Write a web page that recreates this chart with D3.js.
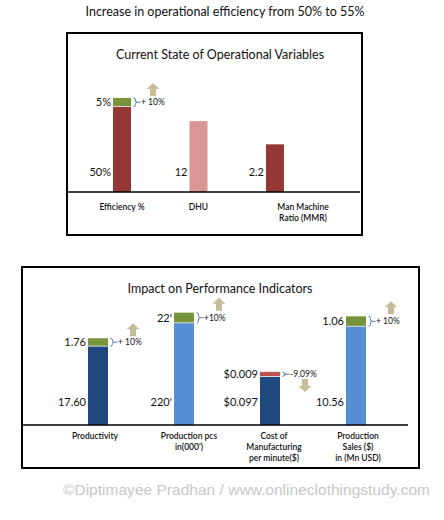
<!DOCTYPE html>
<html><head><meta charset="utf-8">
<script src="https://cdn.jsdelivr.net/npm/d3@7"></script>
<style>body{margin:0;background:#fff}svg{display:block}</style>
</head><body>
<script>
// ---------- DATA ----------
const mainTitle = "Increase in operational efficiency from 50% to 55%";
const watermark = "©Diptimayee Pradhan / www.onlineclothingstudy.com";

// Panel 1: operational variables
const opTitle = "Current State of Operational Variables";
const opCategories = ["Efficiency %", "DHU", "Man Machine Ratio (MMR)"];
const opCategoryLines = [["Efficiency %"], ["DHU"], ["Man Machine", "Ratio (MMR)"]];
const opValues = [50, 12, 2.2];
const opValueLabels = ["50%", "12", "2.2"];
const opDeltas = [5, 0, 0];
const opDeltaLabels = ["5%", "", ""];
const opChangeLabels = ["+ 10%", "", ""];
const opDirections = ["up", "", ""];
const opScaleMax = [76, 22, 6];

// Panel 2: performance indicators
const kpiTitle = "Impact on Performance Indicators";
const kpiCategories = ["Productivity", "Production pcs in(000')", "Cost of Manufacturing per minute($)", "Production Sales ($) in (Mn USD)"];
const kpiCategoryLines = [["Productivity"], ["Production pcs", "in(000')"], ["Cost of", "Manufacturing", "per minute($)"], ["Production", "Sales ($)", "in (Mn USD)"]];
const kpiValues = [17.60, 220, 0.097, 10.56];
const kpiValueLabels = ["17.60", "220'", "$0.097", "10.56"];
const kpiDeltas = [1.76, 22, 0.009, 1.06];
const kpiDeltaLabels = ["1.76", "22'", "$0.009", "1.06"];
const kpiChangeLabels = ["+ 10%", "+10%", "-9.09%", "+ 10%"];
const kpiDirections = ["up", "up", "down", "up"];
const kpiScaleMax = [29, 280, 0.26, 13.9];

// ---------- STYLE ----------
const FONT = "Lato, 'Open Sans', sans-serif";
const GREEN = "#77933c", RED = "#c0504d", ARROW = "#c4bd97", BRACE = "#4f81bd";

const svg = d3.select("body").append("svg").attr("width", 444).attr("height", 520);

svg.append("text").attr("x", 225).attr("y", 16).attr("text-anchor", "middle")
  .attr("font-family", FONT).attr("font-size", 12.5).attr("fill", "#111")
  .text(mainTitle);

function drawPanel(p) {
  const g = svg.append("g");
  g.append("rect").attr("x", p.box[0]).attr("y", p.box[1]).attr("width", p.box[2]).attr("height", p.box[3])
    .attr("fill", "#fff").attr("stroke", "#000").attr("stroke-width", 2);
  g.append("text").attr("x", p.titleX).attr("y", p.titleY).attr("text-anchor", "middle")
    .attr("font-family", FONT).attr("font-size", 12.5).attr("fill", "#111").text(p.title);

  const x = d3.scalePoint().domain(p.categories).range(p.xRange);
  const ys = p.scaleMax.map(m => d3.scaleLinear().domain([0, m]).range([p.base, p.base - 130]));
  const bw = p.barWidth;

  const items = p.categories.map((c, i) => ({
    c, i, y: ys[i], v: p.values[i], d: p.deltas[i], vl: p.valueLabels[i], dl: p.deltaLabels[i],
    cl: p.changeLabels[i], dir: p.directions[i], color: p.colors[i], dcolor: p.deltaColors[i], lines: p.lines[i]
  }));

  const bars = g.selectAll("g.bar").data(items).join("g").attr("class", "bar");
  // base bar
  bars.append("rect")
    .attr("x", d => x(d.c) - bw / 2).attr("width", bw)
    .attr("y", d => d.y(d.v)).attr("height", d => d.y(0) - d.y(d.v))
    .attr("fill", d => d.color);
  // delta segment
  const withDelta = bars.filter(d => d.d > 0);
  withDelta.append("rect")
    .attr("x", d => x(d.c) - bw / 2).attr("width", bw)
    .attr("y", d => d.y(d.v + d.d)).attr("height", d => d.y(d.v) - d.y(d.v + d.d))
    .attr("fill", d => d.dcolor)
    .attr("stroke", d => d.dir === "down" ? "#8c8c8c" : "none")
    .attr("stroke-width", 0.8).attr("stroke-dasharray", "1,1");
  withDelta.append("line")
    .attr("x1", d => x(d.c) - bw / 2).attr("x2", d => x(d.c) + bw / 2)
    .attr("y1", d => d.y(d.v)).attr("y2", d => d.y(d.v))
    .attr("stroke", "#d9d9d9").attr("stroke-width", 1);

  // value labels
  bars.append("text")
    .attr("x", d => x(d.c) - bw / 2 - 2).attr("y", p.base - p.valueOffset)
    .attr("dy", "0.35em").attr("text-anchor", "end")
    .attr("font-family", FONT).attr("font-size", 11).attr("fill", "#111")
    .text(d => d.vl);
  withDelta.append("text")
    .attr("x", d => x(d.c) - bw / 2 - 2).attr("y", d => (d.y(d.v) + d.y(d.v + d.d)) / 2)
    .attr("dy", "0.35em").attr("text-anchor", "end")
    .attr("font-family", FONT).attr("font-size", 11).attr("fill", "#111")
    .text(d => d.dl);

  // braces
  withDelta.append("path")
    .attr("d", d => {
      const x0 = x(d.c) + bw / 2 + 2.5;
      const t = d.y(d.v + d.d), b = d.y(d.v), m = (t + b) / 2;
      return `M${x0},${t} Q${x0 + 2},${t} ${x0 + 2},${t + 2} L${x0 + 2},${m - 1} Q${x0 + 2},${m} ${x0 + 4},${m}` +
             ` Q${x0 + 2},${m} ${x0 + 2},${m + 1} L${x0 + 2},${b - 2} Q${x0 + 2},${b} ${x0},${b}` +
             ` M${x0 + 4},${m} L${x0 + 7},${m}`;
    })
    .attr("fill", "none").attr("stroke", BRACE).attr("stroke-width", 1);
  withDelta.append("text")
    .attr("x", d => x(d.c) + bw / 2 + 10).attr("y", d => (d.y(d.v) + d.y(d.v + d.d)) / 2)
    .attr("dy", "0.35em").attr("font-family", FONT).attr("font-size", 8.5).attr("fill", "#111")
    .text(d => d.cl);

  // arrows
  const arrowPath = "M0,0 L6.5,6 L3,6 L3,13 L-3,13 L-3,6 L-6.5,6 Z";
  withDelta.append("path")
    .attr("d", arrowPath).attr("fill", ARROW)
    .attr("transform", d => {
      const cx = x(d.c) + bw / 2 + p.arrowDx;
      if (d.dir === "down") {
        const top = d.y(d.v + d.d) + 7;
        return `translate(${cx},${top + 13}) scale(1,-1)`;
      }
      const bottom = d.y(d.v + d.d) - 2;
      return `translate(${cx},${bottom - 13})`;
    });

  // baseline
  g.append("line").attr("x1", p.axisX[0]).attr("x2", p.axisX[1]).attr("y1", p.base).attr("y2", p.base)
    .attr("stroke", "#000").attr("stroke-width", 1.3);

  // category labels
  bars.each(function (d) {
    const t = d3.select(this).append("text")
      .attr("text-anchor", "middle").attr("font-family", FONT).attr("font-size", 8.5)
      .attr("font-weight", 600).attr("fill", "#111");
    d.lines.forEach((ln, k) => {
      t.append("tspan").attr("x", x(d.c) + (p.labelDx[d.i] || 0))
        .attr("y", p.base + p.labelOffset + k * 11).attr("dy", "0.35em").text(ln);
    });
  });
}

drawPanel({
  box: [67, 33, 295, 202], title: opTitle, titleX: 220, titleY: 59,
  categories: opCategories, lines: opCategoryLines, values: opValues, valueLabels: opValueLabels,
  deltas: opDeltas, deltaLabels: opDeltaLabels, changeLabels: opChangeLabels, directions: opDirections,
  scaleMax: opScaleMax, colors: ["#953735", "#d99694", "#953735"], deltaColors: [GREEN, GREEN, GREEN],
  xRange: [122, 275], base: 192, barWidth: 18, valueOffset: 20, labelOffset: 15,
  axisX: [67, 360], arrowDx: 22, labelDx: [0, 0, 28]
});

drawPanel({
  box: [22, 267, 397, 201], title: kpiTitle, titleX: 220, titleY: 293,
  categories: kpiCategories, lines: kpiCategoryLines, values: kpiValues, valueLabels: kpiValueLabels,
  deltas: kpiDeltas, deltaLabels: kpiDeltaLabels, changeLabels: kpiChangeLabels, directions: kpiDirections,
  scaleMax: kpiScaleMax, colors: ["#1f497d", "#558ed5", "#1f497d", "#558ed5"], deltaColors: [GREEN, GREEN, RED, GREEN],
  xRange: [98, 356], base: 425, barWidth: 20, valueOffset: 23, labelOffset: 11,
  axisX: [22, 408], arrowDx: 25, labelDx: [-3, 5, 4, 2]
});

svg.append("text").attr("x", 63).attr("y", 495)
  .attr("font-family", "'Liberation Sans', Arial, sans-serif").attr("font-size", 15)
  .attr("fill", "#c8c8c8").attr("textLength", 367).attr("lengthAdjust", "spacingAndGlyphs")
  .text(watermark);
</script>
</body></html>
